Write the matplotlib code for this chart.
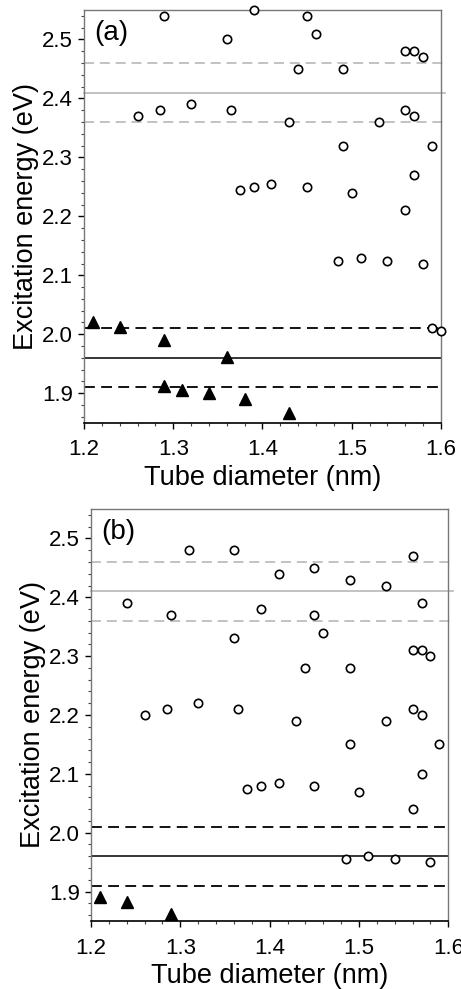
import matplotlib
matplotlib.use("Agg")
import matplotlib.pyplot as plt
from matplotlib.ticker import MultipleLocator

plt.rcParams['font.family'] = ['Liberation Sans', 'DejaVu Sans']

# Panel (a) data
a_circ_x = [1.29, 1.39, 1.45, 1.46, 1.36, 1.44, 1.49, 1.56, 1.57, 1.58,
            1.26, 1.285, 1.32, 1.365, 1.43, 1.53, 1.56, 1.57, 1.49, 1.59,
            1.57, 1.375, 1.39, 1.41, 1.45, 1.50, 1.56,
            1.485, 1.51, 1.54, 1.58, 1.59, 1.60]
a_circ_y = [2.54, 2.55, 2.54, 2.51, 2.50, 2.45, 2.45, 2.48, 2.48, 2.47,
            2.37, 2.38, 2.39, 2.38, 2.36, 2.36, 2.38, 2.37, 2.32, 2.32,
            2.27, 2.245, 2.25, 2.255, 2.25, 2.24, 2.21,
            2.125, 2.13, 2.125, 2.12, 2.01, 2.005]
a_tri_x = [1.21, 1.24, 1.29, 1.36, 1.29, 1.31, 1.34, 1.38, 1.43]
a_tri_y = [2.02, 2.012, 1.99, 1.962, 1.912, 1.906, 1.901, 1.891, 1.866]

# Panel (b) data
b_circ_x = [1.24, 1.31, 1.36, 1.29, 1.41, 1.45, 1.49, 1.53, 1.56, 1.57,
            1.39, 1.45, 1.46, 1.36, 1.56, 1.57, 1.58, 1.44, 1.49,
            1.26, 1.285, 1.32, 1.365, 1.43, 1.53, 1.56, 1.57, 1.49, 1.59,
            1.375, 1.39, 1.41, 1.45, 1.50, 1.57, 1.56,
            1.485, 1.51, 1.54, 1.58]
b_circ_y = [2.39, 2.48, 2.48, 2.37, 2.44, 2.45, 2.43, 2.42, 2.47, 2.39,
            2.38, 2.37, 2.34, 2.33, 2.31, 2.31, 2.30, 2.28, 2.28,
            2.20, 2.21, 2.22, 2.21, 2.19, 2.19, 2.21, 2.20, 2.15, 2.15,
            2.075, 2.08, 2.085, 2.08, 2.07, 2.10, 2.04,
            1.955, 1.96, 1.955, 1.95]
b_tri_x = [1.21, 1.24, 1.29]
b_tri_y = [1.891, 1.882, 1.862]

# Reference lines
gray_center, gray_band = 2.41, [2.46, 2.36]
black_center, black_band = 1.96, [2.01, 1.91]

x_ticks = [1.2, 1.3, 1.4, 1.5, 1.6]
y_ticks = [1.9, 2.0, 2.1, 2.2, 2.3, 2.4, 2.5]

fig = plt.figure(figsize=(4.61, 9.89), dpi=100)
ax_a = fig.add_axes([84/461, 1-422.7/989, 357/461, 412.7/989])
ax_b = fig.add_axes([91/461, 1-921/989, 357.3/461, 412/989])

panels = [
    (ax_a, a_circ_x, a_circ_y, a_tri_x, a_tri_y, '(a)'),
    (ax_b, b_circ_x, b_circ_y, b_tri_x, b_tri_y, '(b)'),
]

for ax, cx, cy, tx, ty, lab in panels:
    gcol = '#b8b8b8'
    ax.axhline(gray_center, xmin=0, xmax=1.012, color=gcol, lw=1.2, clip_on=False, zorder=1)
    for v in gray_band:
        ax.axhline(v, xmin=0, xmax=1.012, color=gcol, lw=1.2, dashes=(6, 3.5), clip_on=False, zorder=1)
    ax.axhline(black_center, color='black', lw=1.1, zorder=1)
    for v in black_band:
        ax.axhline(v, color='black', lw=1.3, dashes=(6, 3.5), zorder=1)

    ax.plot(cx, cy, linestyle='none', marker='o', ms=6.0, mfc='white',
            mec='black', mew=1.2, zorder=3, clip_on=False)
    ax.plot(tx, ty, linestyle='none', marker='^', ms=8.0, mfc='black',
            mec='black', zorder=3, clip_on=False)

    ax.set_xlim(1.2, 1.6)
    ax.set_ylim(1.85, 2.55)
    ax.set_xticks(x_ticks)
    ax.set_yticks(y_ticks)
    ax.set_xticklabels([f'{v:.1f}' for v in x_ticks])
    ax.set_yticklabels([f'{v:.1f}' for v in y_ticks])
    ax.xaxis.set_minor_locator(MultipleLocator(0.02))
    ax.yaxis.set_minor_locator(MultipleLocator(0.02))
    ax.tick_params(axis='both', which='major', direction='out', length=4,
                   width=1.0, labelsize=16, colors='black', pad=3)
    ax.tick_params(axis='both', which='minor', direction='out', length=2.2,
                   width=0.8, colors='#444444')
    ax.tick_params(axis='x', which='major', pad=8)
    ax.tick_params(axis='y', which='major', pad=4)
    for s in ['top', 'right', 'left']:
        ax.spines[s].set_color('#777777')
        ax.spines[s].set_linewidth(1.0)
    ax.spines['bottom'].set_color('black')
    ax.spines['bottom'].set_linewidth(1.2)

    ax.set_xlabel('Tube diameter (nm)', fontsize=19.5, labelpad=3)
    ax.set_ylabel('Excitation energy (eV)', fontsize=19.5, labelpad=2)
    ax.text(0.03, 0.975, lab, transform=ax.transAxes, fontsize=20,
            va='top', ha='left')

fig.savefig('out.png', dpi=100)
